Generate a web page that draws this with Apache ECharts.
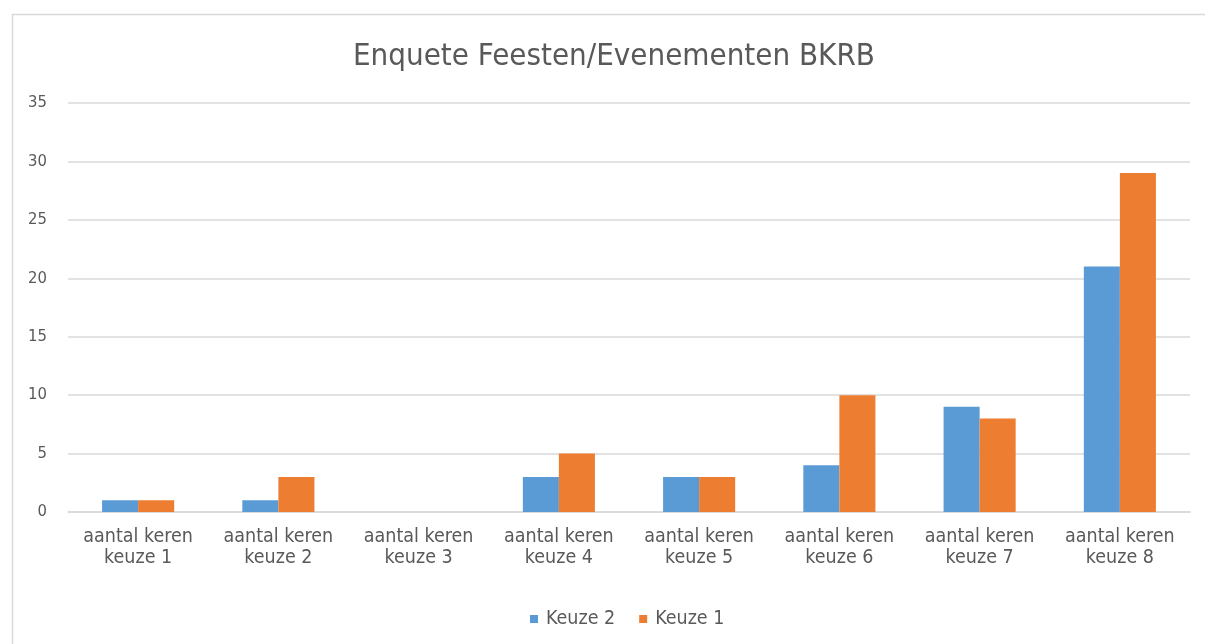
<!DOCTYPE html>
<html>
<head>
<meta charset="utf-8">
<script src="https://cdn.jsdelivr.net/npm/echarts@6/dist/echarts.min.js"></script>
<style>
html,body{margin:0;padding:0;background:#fff;}
#c{width:1205px;height:644px;}
</style>
</head>
<body>
<div id="c"></div>
<script>
const categories = ["aantal keren\nkeuze 1","aantal keren\nkeuze 2","aantal keren\nkeuze 3","aantal keren\nkeuze 4","aantal keren\nkeuze 5","aantal keren\nkeuze 6","aantal keren\nkeuze 7","aantal keren\nkeuze 8"];
const keuze2 = [1, 1, 0, 3, 3, 4, 9, 21];
const keuze1 = [1, 3, 0, 5, 3, 10, 8, 29];
const seriesNames = ["Keuze 2", "Keuze 1"];

const FONT = "'Liberation Sans Narrow', 'DejaVu Sans Condensed', sans-serif";
const chart = echarts.init(document.getElementById('c'), null, {renderer: 'canvas'});
chart.setOption({
  animation: false,
  backgroundColor: '#ffffff',
  graphic: [{
    type: 'rect', left: 10, top: 12, shape: {width: 1200, height: 640},
    style: {fill: 'none', stroke: '#D9D9D9', lineWidth: 1.5}, silent: true, z: -1
  }],
  title: {
    text: 'Enquete Feesten/Evenementen BKRB',
    left: 348, top: 36,
    textStyle: {fontFamily: FONT, fontSize: 31, fontWeight: 'normal', color: '#595959'}
  },
  legend: {
    data: seriesNames, bottom: 10, left: 525,
    itemWidth: 8, itemHeight: 8, itemGap: 24, icon: 'rect',
    textStyle: {fontFamily: FONT, fontSize: 19.5, color: '#595959', padding: [0, 0, 0, 3]}
  },
  grid: {left: 68, right: 15, top: 103, bottom: 132, containLabel: false},
  xAxis: {
    type: 'category', data: categories,
    axisLine: {lineStyle: {color: '#D9D9D9', width: 1.5}},
    axisTick: {show: false},
    axisLabel: {fontFamily: FONT, fontSize: 19.5, color: '#595959', lineHeight: 21, margin: 14, interval: 0}
  },
  yAxis: {
    type: 'value', min: 0, max: 35, interval: 5,
    axisLine: {show: false}, axisTick: {show: false},
    splitLine: {lineStyle: {color: '#D9D9D9', width: 1.5}},
    axisLabel: {fontFamily: FONT, fontSize: 16.5, color: '#595959', margin: 21}
  },
  series: [
    {name: seriesNames[0], type: 'bar', data: keuze2, barWidth: '25.7%', barGap: '0%', itemStyle: {color: '#5B9BD5'}},
    {name: seriesNames[1], type: 'bar', data: keuze1, barWidth: '25.7%', barGap: '0%', itemStyle: {color: '#ED7D31'}}
  ]
});
</script>
</body>
</html>
